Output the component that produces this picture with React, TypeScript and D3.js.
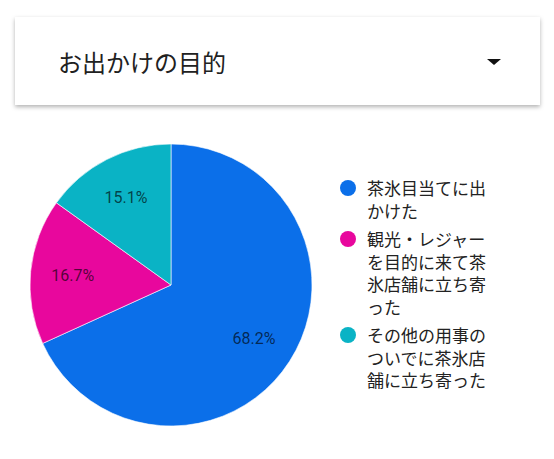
import React from 'react';
import * as d3 from 'd3';

const title = 'お出かけの目的';
const categories = ['茶氷目当て', '観光・レジャー', 'その他'];
const values = [68.2, 16.7, 15.1];
const legendLines = [
  ['茶氷目当てに出', 'かけた'],
  ['観光・レジャー', 'を目的に来て茶', '氷店舗に立ち寄', 'った'],
  ['その他の用事の', 'ついでに茶氷店', '舗に立ち寄った'],
];
const colors = ['#0b6fe9', '#e8079d', '#0ab3c5'];

const W = 554, H = 459;
const cx = 171, cy = 285, R = 141;
const jp = '"Noto Sans CJK JP", "Noto Sans", sans-serif';

export default function App() {
  const pie = d3.pie<number>().sort(null).value(d => d);
  const arcs = pie(values);
  const arc = d3.arc<d3.PieArcDatum<number>>().innerRadius(0).outerRadius(R);
  const labelArc = d3.arc<d3.PieArcDatum<number>>().innerRadius(R * 0.7).outerRadius(R * 0.7);

  // legend layout
  const lh = 22.5, gap = 6;
  let y0 = 195;
  const legend = legendLines.map((lines, i) => {
    const item = { lines, y: y0, i };
    y0 += lines.length * lh + gap;
    return item;
  });

  return (
    <svg width={W} height={H} style={{ position: 'absolute', left: 0, top: 0, background: '#fff' }}>
      <defs>
        <filter id="sh" x="-5%" y="-20%" width="110%" height="150%">
          <feDropShadow dx="0" dy="2" stdDeviation="2" floodColor="#000" floodOpacity="0.3" />
        </filter>
      </defs>
      <rect x={15} y={17} width={525} height={88} fill="#fff" filter="url(#sh)" />
      <text x={58} y={72} fontFamily={jp} fontSize={24} fill="#212121">{title}</text>
      <path d="M487,59 L501,59 L494,65 Z" fill="#111" />

      <g transform={`translate(${cx},${cy})`}>
        {arcs.map((a, i) => (
          <path key={categories[i]} d={arc(a)!} fill={colors[i]} stroke="#fff" strokeWidth={0.6} />
        ))}
        {arcs.map((a, i) => {
          const [x, y] = labelArc.centroid(a);
          return (
            <text key={i} x={x} y={y} dy="0.35em" textAnchor="middle"
              fontFamily="Roboto, sans-serif" fontSize={16} fill="#000" fillOpacity={0.65}>
              {values[i].toFixed(1)}%
            </text>
          );
        })}
      </g>

      {legend.map(({ lines, y, i }) => (
        <g key={i}>
          <circle cx={348} cy={y - 7} r={8} fill={colors[i]} />
          {lines.map((t, j) => (
            <text key={j} x={367} y={y + j * lh} fontFamily={jp} fontSize={17} fill="#222">{t}</text>
          ))}
        </g>
      ))}
    </svg>
  );
}
